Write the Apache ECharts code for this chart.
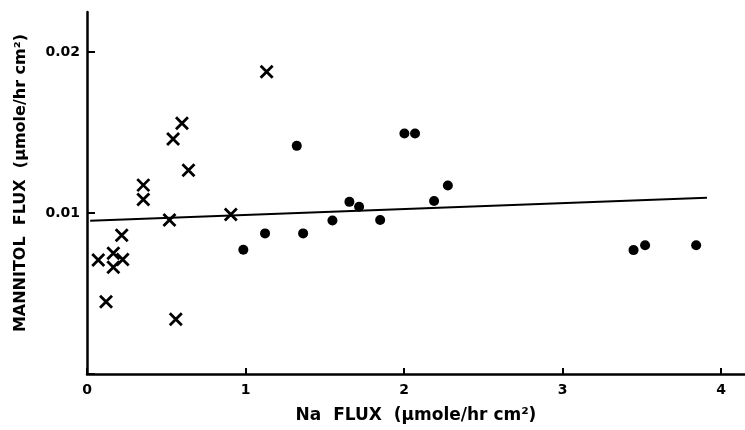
<!DOCTYPE html>
<html>
<head>
<meta charset="utf-8">
<script src="https://cdn.jsdelivr.net/npm/echarts@6/dist/echarts.min.js"></script>
<style>
html,body{margin:0;padding:0;background:#fff;}
#chart{width:745px;height:430px;}
</style>
</head>
<body>
<div id="chart"></div>
<script>
// 甘露醇通量 vs Na 通量
var crossX = [0.64, 0.355, 0.355, 0.52, 0.907, 0.219, 0.071, 0.166, 0.166, 0.225, 0.12, 0.56, 0.543, 0.599, 1.133];
var crossY = [0.01267, 0.01174, 0.01085, 0.00957, 0.00992, 0.00863, 0.00708, 0.0075, 0.00663, 0.00712, 0.00449, 0.0034, 0.0146, 0.01559, 0.01878];
var dotX = [0.986, 1.123, 1.363, 1.323, 1.548, 1.655, 1.716, 1.849, 2.002, 2.069, 2.189, 2.276, 3.447, 3.52, 3.842];
var dotY = [0.00772, 0.00874, 0.00874, 0.01418, 0.00954, 0.0107, 0.01039, 0.00957, 0.01495, 0.01495, 0.01075, 0.01172, 0.0077, 0.008, 0.008];
var fitX = [0.02, 3.91];
var fitY = [0.00952, 0.01095];

function pairs(xs, ys) {
	return xs.map(function (x, i) { return [x, ys[i]]; });
}

var font = 'DejaVu Sans';
var crossPath = 'path://M0,0 L10,10 M10,0 L0,10';

var Chart = echarts.init(document.getElementById('chart'));
var option = {
	animation: false,
	grid: {left: 87, top: 12, width: 658, height: 362},
	xAxis: {
		type: 'value',
		min: 0,
		max: 4.15,
		interval: 1,
		splitLine: {show: false},
		axisLine: {lineStyle: {color: '#000', width: 2.5}},
		axisTick: {inside: true, length: 6, lineStyle: {color: '#000', width: 2}},
		axisLabel: {showMaxLabel: false, color: '#000', fontFamily: font, fontWeight: 'bold', fontSize: 14, margin: 9},
		name: 'Na  FLUX  (\u00b5mole/hr cm\u00b2)',
		nameLocation: 'middle',
		nameGap: 33,
		nameTextStyle: {color: '#000', fontFamily: font, fontWeight: 'bold', fontSize: 17}
	},
	yAxis: {
		type: 'value',
		min: 0,
		max: 0.0225,
		interval: 0.01,
		splitLine: {show: false},
		axisLine: {lineStyle: {color: '#000', width: 2.5}},
		axisTick: {inside: true, length: 8, lineStyle: {color: '#000', width: 2}},
		axisLabel: {
			showMaxLabel: false,
			color: '#000', fontFamily: font, fontWeight: 'bold', fontSize: 14, margin: 7,
			formatter: function (v) { return v === 0 ? '' : v.toFixed(2); }
		},
		name: 'MANNITOL  FLUX  (\u00b5mole/hr cm\u00b2)',
		nameLocation: 'middle',
		nameGap: 58,
		nameTextStyle: {color: '#000', fontFamily: font, fontWeight: 'bold', fontSize: 16, padding: [0, 0, 0, 20]}
	},
	series: [{
		type: 'line',
		data: pairs(fitX, fitY),
		symbol: 'none',
		lineStyle: {color: '#000', width: 2}
	}, {
		type: 'scatter',
		data: pairs(crossX, crossY),
		symbol: crossPath,
		symbolSize: 12,
		itemStyle: {color: 'none', borderColor: '#000', borderWidth: 2.8, opacity: 1}
	}, {
		type: 'scatter',
		data: pairs(dotX, dotY),
		symbol: 'circle',
		symbolSize: 10,
		itemStyle: {color: '#000', opacity: 1}
	}]
};
Chart.setOption(option);
</script>
</body>
</html>
